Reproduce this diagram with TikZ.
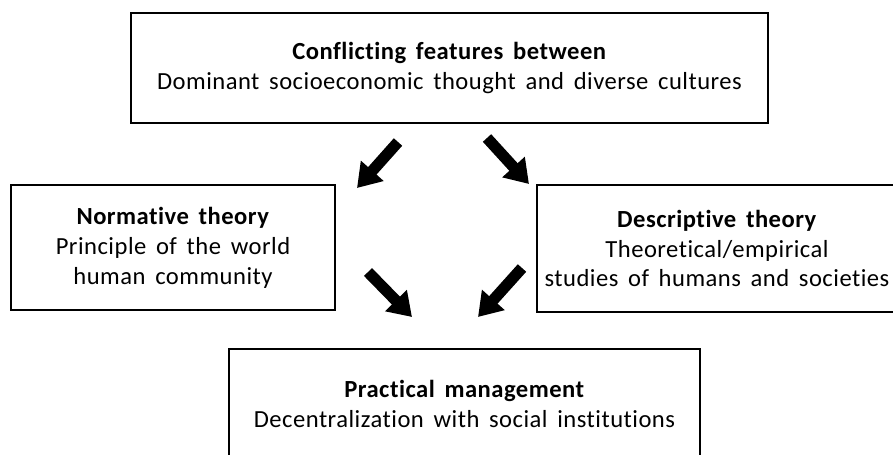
\documentclass[tikz,border=0pt]{standalone}
\usepackage{fontspec}
\setmainfont{Carlito}[Ligatures=NoCommon, WordSpace=1.6, LetterSpace=2.0]
\usetikzlibrary{arrows.meta, positioning}
\tikzset{
  every picture/.style={line width=1.1pt},
  box/.style={draw=black, fill=white, align=center, inner sep=4pt, font=\fontsize{14}{17}\selectfont},
  arrow/.style={-{Triangle[length=0.46cm, width=0.58cm]}, line width=6.4pt, draw=black},
}
\begin{document}
\begin{tikzpicture}[x=0.02cm, y=-0.02cm]
  \useasboundingbox (0,0) rectangle (893,454);
  \node[box, minimum width=12.74cm, minimum height=2.2cm] (conflict) at (449.5,68)
    {\textbf{Conflicting features between}\\Dominant socioeconomic thought and diverse cultures};
  \node[box, minimum width=6.48cm, minimum height=2.5cm] (normative) at (173,247.5)
    {\textbf{Normative theory}\\Principle of the world\\human community};
  \node[box, minimum width=7.2cm, minimum height=2.54cm] (descriptive) at (717,248.5)
    {\textbf{Descriptive theory}\\Theoretical/empirical\\studies of humans and societies};
  \node[box, minimum width=9.42cm, minimum height=2.2cm] (practical) at (464.5,404)
    {\textbf{Practical management}\\Decentralization with social institutions};
  % arrow ends
  \coordinate (a1) at (398,142); \coordinate (b1) at (357,188);
  \coordinate (a2) at (487,138); \coordinate (b2) at (529,184);
  \coordinate (a3) at (368,272); \coordinate (b3) at (412,317);
  \coordinate (a4) at (522,268); \coordinate (b4) at (478,317);
  \foreach \i in {1,...,4} \draw[arrow] (a\i) -- (b\i);
\end{tikzpicture}
\end{document}
